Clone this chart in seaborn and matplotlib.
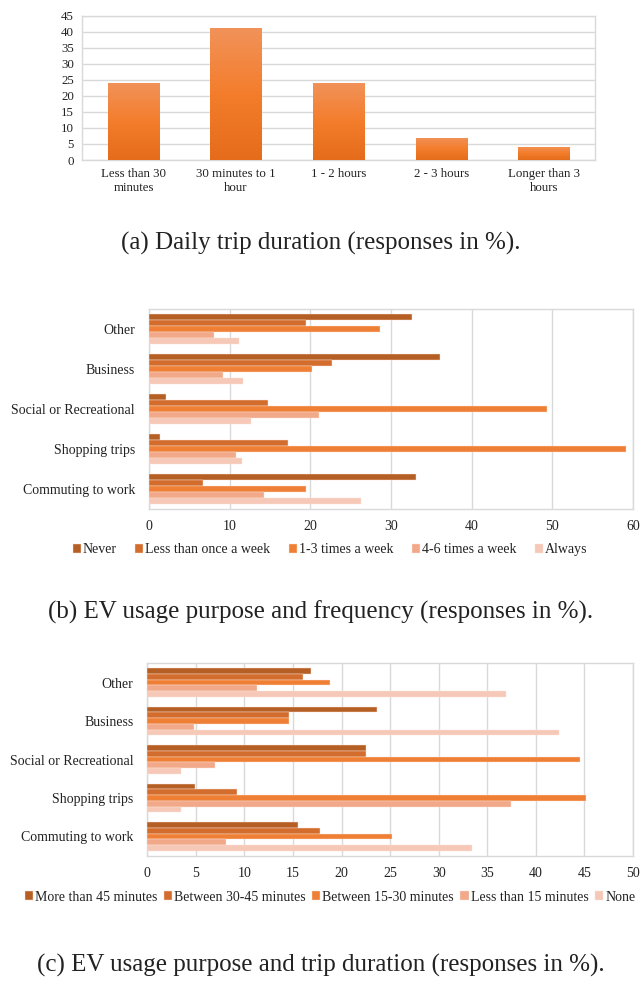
import numpy as np
import pandas as pd
import seaborn as sns
import matplotlib.pyplot as plt
from matplotlib.colors import LinearSegmentedColormap

# (a) daily trip duration
duration_labels = ['Less than 30\nminutes', '30 minutes to 1\nhour', '1 - 2 hours',
                   '2 - 3 hours', 'Longer than 3\nhours']
duration_values = [24.0, 41.1, 24.0, 6.9, 4.1]

# purposes, top to bottom
purposes = ['Other', 'Business', 'Social or Recreational', 'Shopping trips', 'Commuting to work']

# (b) usage frequency per purpose
freq_levels = ['Never', 'Less than once a week', '1-3 times a week', '4-6 times a week', 'Always']
freq_never = [32.6, 36.1, 2.1, 1.4, 33.1]
freq_less_once = [19.4, 22.7, 14.8, 17.2, 6.7]
freq_1_3 = [28.6, 20.2, 49.3, 59.1, 19.5]
freq_4_6 = [8.1, 9.2, 21.1, 10.8, 14.3]
freq_always = [11.2, 11.7, 12.6, 11.5, 26.3]

# (c) trip duration per purpose
dur_levels = ['More than 45 minutes', 'Between 30-45 minutes', 'Between 15-30 minutes',
              'Less than 15 minutes', 'None']
dur_45_plus = [16.9, 23.6, 22.5, 4.9, 15.5]
dur_30_45 = [16.0, 14.6, 22.5, 9.2, 17.8]
dur_15_30 = [18.8, 14.6, 44.5, 45.2, 25.2]
dur_lt_15 = [11.3, 4.8, 7.0, 37.4, 8.1]
dur_none = [36.9, 42.4, 3.5, 3.5, 33.4]

shades = ['#B65F25', '#D36D2D', '#EE7F34', '#F2A98A', '#F6C8B7']
grid_col = '#D9D9D9'

sns.set_theme(style='white')
plt.rcParams['font.family'] = ['Liberation Serif', 'DejaVu Serif']
plt.rcParams['text.color'] = '#222222'

fig = plt.figure(figsize=(6.42, 9.89), dpi=100)


def style_axes(ax):
    for s in ax.spines.values():
        s.set_color(grid_col)
        s.set_linewidth(1.0)
    ax.tick_params(length=0, colors='#222222')


# ---------- (a) ----------
ax1 = fig.add_axes([0.1282, 0.8382, 0.7986, 0.1459])
df_a = pd.DataFrame({'dur': duration_labels, 'pct': duration_values})
sns.barplot(data=df_a, x='dur', y='pct', color='#F47C2A', width=0.5, ax=ax1, zorder=3)
ax1.set_ylim(0, 45)
ax1.set_xlim(-0.5, 4.5)
ax1.set_yticks(range(0, 46, 5))
ax1.yaxis.grid(True, color=grid_col, linewidth=1.0)
ax1.set_axisbelow(True)
ax1.set_xlabel('')
ax1.set_ylabel('')
style_axes(ax1)
ax1.tick_params(axis='both', labelsize=9.3, pad=6)
# gradient fill for the bars
grad = LinearSegmentedColormap.from_list('g', ['#E46C1B', '#F47D2C', '#F19259'])
for p in ax1.patches:
    x0, w, h = p.get_x(), p.get_width(), p.get_height()
    im = ax1.imshow(np.linspace(0, 1, 100).reshape(-1, 1), cmap=grad, origin='lower',
                    extent=[x0, x0 + w, 0, h], aspect='auto', zorder=3)
    im.set_clip_path(p)
    p.set_facecolor('none')
    p.set_edgecolor('none')
ax1.set_xlim(-0.5, 4.5)
ax1.set_ylim(0, 45)
fig.text(0.5, 0.7543, '(a) Daily trip duration (responses in %).', ha='center', va='center', fontsize=18)


def hbar_panel(rect, levels, series, xmax, xstep, legend_y, colspace, caption, caption_y):
    ax = fig.add_axes(rect)
    rows = []
    for lvl, vals in zip(levels, series):
        for p, v in zip(purposes, vals):
            rows.append({'purpose': p, 'level': lvl, 'pct': v})
    df = pd.DataFrame(rows)
    sns.barplot(data=df, y='purpose', x='pct', hue='level', order=purposes, hue_order=levels,
                palette=shades, saturation=1, width=0.74, orient='h', ax=ax, zorder=3,
                edgecolor='#FBE3D6', linewidth=0.3)
    ax.set_xlim(0, xmax)
    ax.set_xticks(np.arange(0, xmax + 1, xstep))
    ax.xaxis.grid(True, color=grid_col, linewidth=1.0)
    ax.set_axisbelow(True)
    ax.set_xlabel('')
    ax.set_ylabel('')
    style_axes(ax)
    ax.tick_params(axis='x', labelsize=10, pad=8)
    ax.tick_params(axis='y', labelsize=10, pad=10)
    ax.legend_.remove()
    handles, labels = ax.get_legend_handles_labels()
    fig.legend(handles, labels, loc='center', bbox_to_anchor=(0.514, legend_y), ncol=5,
               frameon=False, fontsize=10, handlelength=0.6, handleheight=0.6,
               handletextpad=0.15, columnspacing=colspace, borderpad=0)
    fig.text(0.5, caption_y, caption, ha='center', va='center', fontsize=18)
    return ax


hbar_panel([0.2321, 0.4853, 0.7539, 0.2023], freq_levels,
           [freq_never, freq_less_once, freq_1_3, freq_4_6, freq_always],
           60, 10, 0.4439, 1.3, '(b) EV usage purpose and frequency (responses in %).', 0.3812)

hbar_panel([0.2294, 0.1348, 0.7566, 0.1945], dur_levels,
           [dur_45_plus, dur_30_45, dur_15_30, dur_lt_15, dur_none],
           50, 5, 0.093, 0.45, '(c) EV usage purpose and trip duration (responses in %).', 0.0243)

fig.savefig('out.png', dpi=100)
